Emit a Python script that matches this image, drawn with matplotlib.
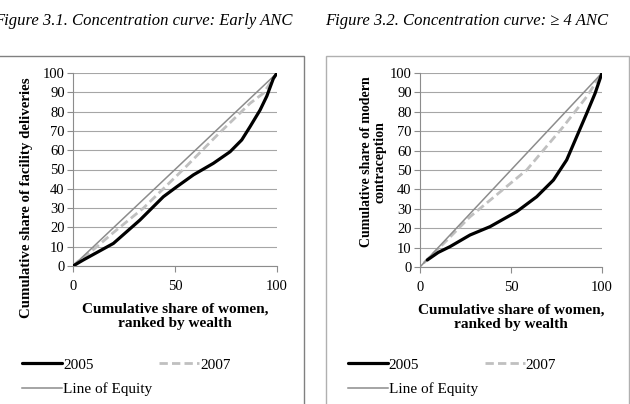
import numpy as np
import matplotlib.pyplot as plt
from matplotlib.patches import Rectangle

plt.rcParams['font.family'] = ['Liberation Serif', 'DejaVu Serif']

# data
left_2005_x = [0, 5, 19.8, 32.8, 44.3, 50.8, 59, 68.8, 77, 82.7, 86.8, 91.7, 95, 98.2, 100]
left_2005_y = [0, 3.1, 11.7, 23.8, 35.9, 41, 47.2, 53.2, 59.2, 65.3, 72.2, 80.8, 88, 97.1, 100]
left_2007_x = [0, 2, 10, 20, 34.5, 54, 70.4, 86.8, 93.3, 100]
left_2007_y = [0, 2, 8.5, 17.5, 30, 50, 67.5, 84.3, 89.5, 100]

right_2005_x = [4, 10, 16.5, 27.5, 38.5, 53.1, 64.1, 73.3, 80.6, 86.1, 91.6, 96.2, 100]
right_2005_y = [3.6, 7.5, 10.5, 16.5, 20.8, 28.5, 36.2, 44.8, 55.2, 67.2, 79.2, 89.5, 100]
right_2007_x = [2, 15, 27.5, 58.6, 78.7, 91.6, 100]
right_2007_y = [2, 14, 25.9, 50, 72.3, 87.8, 100]

equity = [0, 100]

titles = ['Figure 3.1. Concentration curve: Early ANC',
          'Figure 3.2. Concentration curve: \u2265 4 ANC']
ylabels = ['Cumulative share of facility deliveries',
           'Cumulative share of modern\ncontraception']
xlabel = 'Cumulative share of women,\nranked by wealth'

fig = plt.figure(figsize=(6.3, 4.04), dpi=100)

# chart frames
fig.patches.append(Rectangle((-0.01, -0.05), 304/630 + 0.01, 1 - 56/404 + 0.05,
                             transform=fig.transFigure, fill=False,
                             edgecolor='#808080', lw=1.0))
fig.patches.append(Rectangle((326/630, -0.05), (629 - 326)/630, 1 - 56/404 + 0.05,
                             transform=fig.transFigure, fill=False,
                             edgecolor='#b0b0b0', lw=1.0))

ax1 = fig.add_axes([73/630, 1 - 266/404, 204/630, 193/404])
ax2 = fig.add_axes([420/630, 1 - 267/404, 182/630, 194/404])

data = [(ax1, left_2005_x, left_2005_y, left_2007_x, left_2007_y, -0.25, -0.476),
        (ax2, right_2005_x, right_2005_y, right_2007_x, right_2007_y, -0.396, -0.469)]

for ax, x05, y05, x07, y07, lx, ly in data:
    l1, = ax.plot(x05, y05, color='black', lw=2.3, solid_capstyle='round',
                  solid_joinstyle='round', label='2005', zorder=4)
    l2, = ax.plot(x07, y07, color='#c0c0c0', lw=2.0, ls=(0, (3, 1.5)), label='2007', zorder=3)
    l3, = ax.plot(equity, equity, color='#8c8c8c', lw=1.1, label='Line of Equity', zorder=3)
    ax.set_xlim(0, 100)
    ax.set_ylim(0, 100)
    ax.set_xticks([0, 50, 100])
    ax.set_yticks(np.arange(0, 101, 10))
    ax.yaxis.grid(True, color='#a6a6a6', lw=0.8)
    ax.set_axisbelow(True)
    for s in ['top', 'right']:
        ax.spines[s].set_visible(False)
    for s in ['left', 'bottom']:
        ax.spines[s].set_color('#8c8c8c')
        ax.spines[s].set_linewidth(0.8)
    ax.tick_params(colors='#8c8c8c', labelcolor='black', labelsize=10.5, length=4, width=0.8)
    ax.tick_params(axis='x', pad=6)
    ax.tick_params(axis='y', pad=2)
    ax.set_xlabel(xlabel, fontsize=11, fontweight='bold', labelpad=7, linespacing=1.15)
    ax.legend([l1, l3, l2], ['2005', 'Line of Equity', '2007'], ncol=2, frameon=False,
              fontsize=11, handlelength=2.6, columnspacing=0.45, handletextpad=0.08,
              labelspacing=0.7, loc='upper left', bbox_to_anchor=(lx, ly),
              borderaxespad=0, borderpad=0)

# y labels placed like the original
fig.text(27/630, 1 - 198/404, ylabels[0], rotation=90, fontsize=10.7, fontweight='bold',
         ha='center', va='center')
fig.text(373/630, 1 - 162/404, ylabels[1], rotation=90, fontsize=10, fontweight='bold',
         ha='center', va='center', linespacing=1.05)

# figure captions above the frames
fig.text(-6/630, 1 - 21/404, titles[0], fontsize=12, style='italic', ha='left', va='center')
fig.text(325/630, 1 - 21/404, titles[1], fontsize=12, style='italic', ha='left', va='center')

plt.savefig('out.png', dpi=100)
